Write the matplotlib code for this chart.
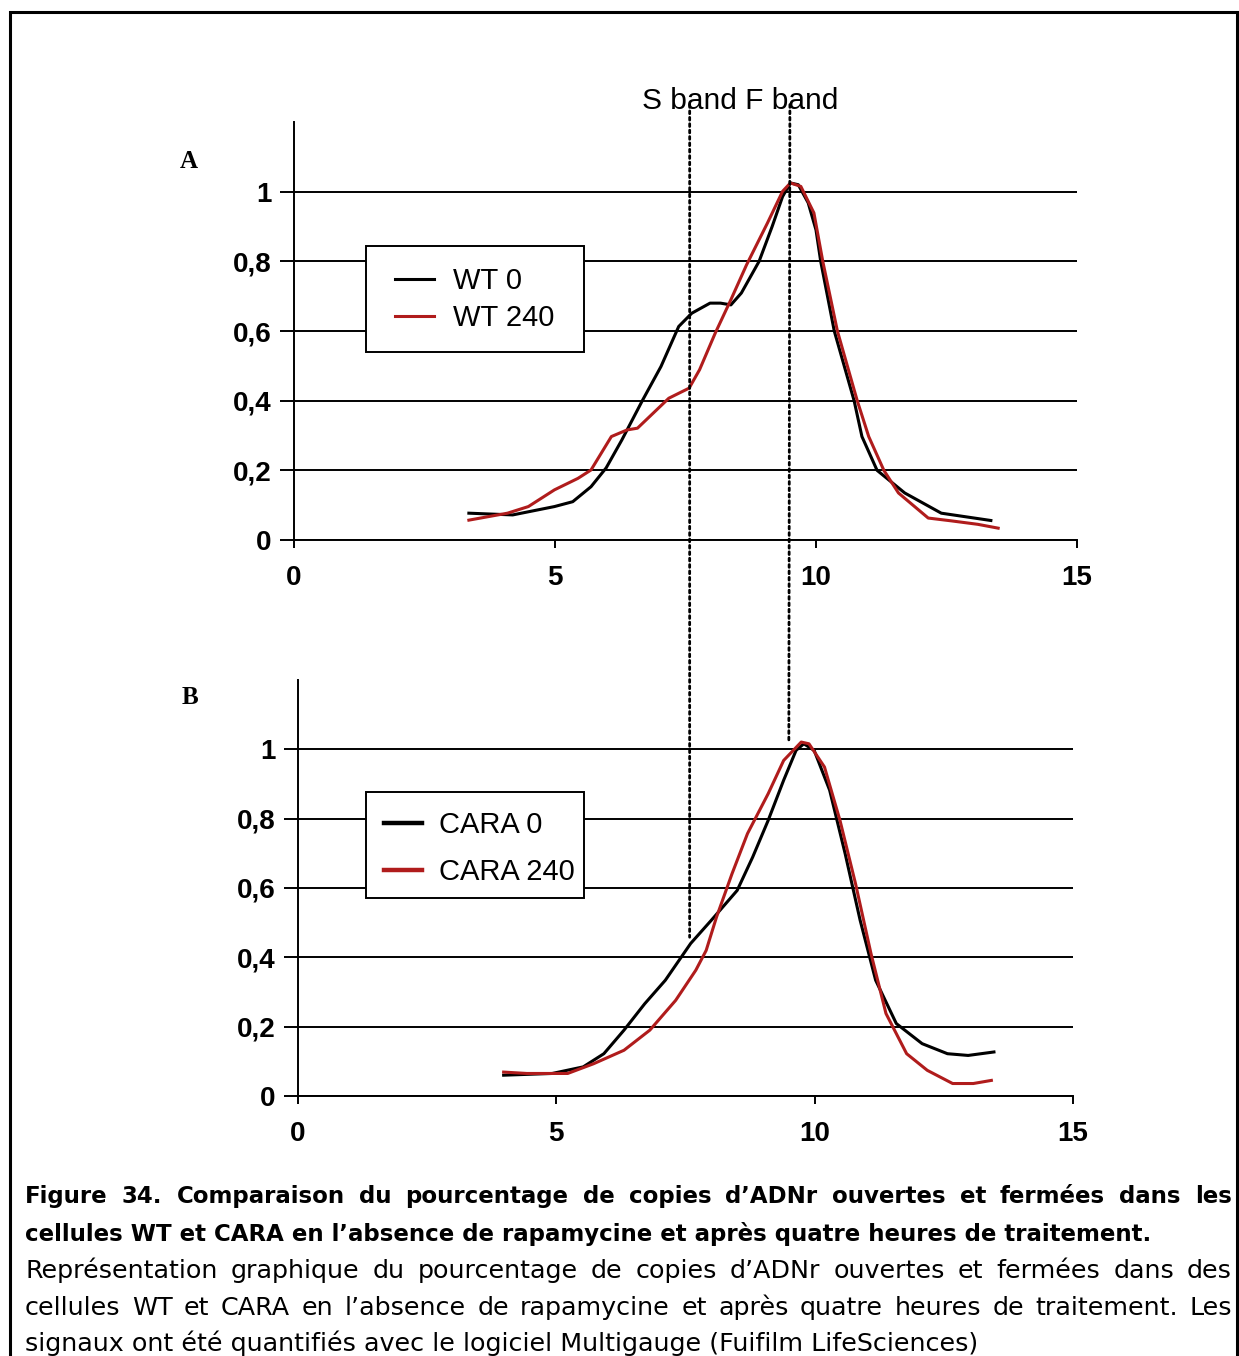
import matplotlib
matplotlib.use("Agg")
import matplotlib.pyplot as plt
from matplotlib.patches import Rectangle, ConnectionPatch
from matplotlib.ticker import FuncFormatter

# ---- data ----
wt0_x = [3.35, 4.19, 4.99, 5.34, 5.69, 5.98, 6.28, 6.68, 7.03, 7.37, 7.62, 7.97, 8.17, 8.37,
         8.57, 8.91, 9.16, 9.36, 9.51, 9.66, 9.85, 10.00, 10.09, 10.35, 10.73, 10.88, 11.17,
         11.70, 12.40, 13.35]
wt0_y = [0.077, 0.072, 0.096, 0.110, 0.153, 0.207, 0.287, 0.402, 0.498, 0.613, 0.651, 0.680,
         0.680, 0.675, 0.709, 0.800, 0.900, 0.986, 1.025, 1.020, 0.968, 0.890, 0.800, 0.600,
         0.400, 0.297, 0.200, 0.135, 0.077, 0.056]

wt240_x = [3.35, 4.09, 4.49, 4.99, 5.44, 5.69, 6.08, 6.38, 6.58, 7.18, 7.57, 7.77, 8.07, 8.37,
           8.67, 9.07, 9.36, 9.51, 9.71, 9.96, 10.13, 10.41, 10.79, 11.01, 11.30, 11.58, 12.15,
           12.59, 13.10, 13.49]
wt240_y = [0.057, 0.077, 0.096, 0.144, 0.177, 0.201, 0.297, 0.316, 0.321, 0.407, 0.436, 0.489,
           0.594, 0.690, 0.790, 0.910, 1.001, 1.025, 1.015, 0.939, 0.800, 0.600, 0.400, 0.297,
           0.200, 0.135, 0.063, 0.055, 0.045, 0.034]

cara0_x = [3.98, 4.92, 5.52, 5.92, 6.31, 6.71, 7.11, 7.60, 8.00, 8.50, 8.80, 9.10, 9.40, 9.64,
           9.79, 9.99, 10.29, 10.59, 10.88, 11.18, 11.58, 12.08, 12.57, 12.97, 13.47]
cara0_y = [0.060, 0.065, 0.084, 0.122, 0.190, 0.266, 0.334, 0.440, 0.507, 0.593, 0.689, 0.795,
           0.911, 0.997, 1.016, 0.997, 0.882, 0.699, 0.507, 0.334, 0.209, 0.151, 0.122, 0.117,
           0.127]

cara240_x = [3.98, 4.43, 5.22, 5.72, 6.31, 6.81, 7.31, 7.70, 7.90, 8.10, 8.40, 8.70, 9.10, 9.40,
             9.74, 9.89, 10.19, 10.49, 10.79, 11.09, 11.38, 11.78, 12.18, 12.67, 13.07, 13.42]
cara240_y = [0.069, 0.065, 0.065, 0.093, 0.132, 0.190, 0.276, 0.363, 0.420, 0.516, 0.641, 0.757,
             0.872, 0.968, 1.021, 1.016, 0.949, 0.795, 0.613, 0.411, 0.238, 0.122, 0.074, 0.036,
             0.036, 0.045]

bands = [7.58, 9.50]          # S band, F band
band_top = 1.25               # in panel A units
band_end_b = [0.458, 1.017]   # where the dotted lines stop in panel B

xticks = [0, 5, 10, 15]
yticks = [0, 0.2, 0.4, 0.6, 0.8, 1.0]

caption_bold = ["Figure 34. Comparaison du pourcentage de copies d’ADNr ouvertes et fermées dans les",
                "cellules WT et CARA en l’absence de rapamycine et après quatre heures de traitement."]
caption_text = ["Représentation graphique du pourcentage de copies d’ADNr ouvertes et fermées dans des",
                "cellules WT et CARA en l’absence de rapamycine et après quatre heures de traitement. Les",
                "signaux ont été quantifiés avec le logiciel Multigauge (Fuifilm LifeSciences)"]

W, H = 1239, 1356
RED = "#b01c1c"
SANS = ["Liberation Sans", "DejaVu Sans"]

fig = plt.figure(figsize=(W / 100, H / 100), dpi=100)


def fx(px):
    return px / W


def fy(py):
    return 1 - py / H


def setup(ax):
    ax.set_xlim(0, 15)
    ax.set_ylim(0, 1.2)
    for s in ["top", "right"]:
        ax.spines[s].set_visible(False)
    for s in ["left", "bottom"]:
        ax.spines[s].set_linewidth(1.4)
    ax.set_xticks(xticks)
    ax.set_yticks(yticks)
    ax.yaxis.set_major_formatter(FuncFormatter(lambda v, p: f"{v:g}".replace(".", ",")))
    ax.tick_params(axis="y", direction="out", length=10, width=1.4, pad=6)
    ax.tick_params(axis="x", direction="out", length=6, width=1.4, pad=12)
    for lab in ax.get_xticklabels() + ax.get_yticklabels():
        lab.set_family(SANS)
        lab.set_fontweight("bold")
        lab.set_fontsize(20)
    ax.yaxis.grid(True, color="black", linewidth=1.4)
    ax.set_axisbelow(True)


axA = fig.add_axes([fx(294), fy(540), fx(1077) - fx(294), fy(122) - fy(540)])
axB = fig.add_axes([fx(298), fy(1096), fx(1073) - fx(298), fy(680) - fy(1096)])
setup(axA)
setup(axB)

axA.plot(wt0_x, wt0_y, color="black", lw=2.2, label="WT 0", zorder=3)
axA.plot(wt240_x, wt240_y, color=RED, lw=2.2, label="WT 240", zorder=3)
axB.plot(cara0_x, cara0_y, color="black", lw=2.2, label="CARA 0", zorder=3)
axB.plot(cara240_x, cara240_y, color=RED, lw=2.2, label="CARA 240", zorder=3)

# legend boxes (fixed size, as in the original)
for ax, top in [(axA, 246), (axB, 792)]:
    ax.add_patch(Rectangle((fx(366), fy(top + 106)), fx(584) - fx(366), fy(top) - fy(top + 106),
                           transform=fig.transFigure, facecolor="white", edgecolor="black",
                           lw=1.4, zorder=4, clip_on=False))

legA = axA.legend(loc="upper left", bbox_to_anchor=(fx(395), fy(267)), bbox_transform=fig.transFigure,
                  frameon=False, borderpad=0, borderaxespad=0, handlelength=1.35, handletextpad=0.65,
                  labelspacing=0.3, prop={"family": SANS, "size": 21})
legB = axB.legend(loc="upper left", bbox_to_anchor=(fx(384), fy(811)), bbox_transform=fig.transFigure,
                  frameon=False, borderpad=0, borderaxespad=0, handlelength=1.3, handletextpad=0.6,
                  labelspacing=0.66, prop={"family": SANS, "size": 21})
for h in legB.get_lines():
    h.set_linewidth(3.2)
legA.set_zorder(5)
legB.set_zorder(5)

# dotted band lines running through both panels
for xb, yb in zip(bands, band_end_b):
    cp = ConnectionPatch(xyA=(xb, band_top), coordsA=axA.transData,
                         xyB=(xb, yb), coordsB=axB.transData,
                         arrowstyle="-", linestyle=(0, (1, 1.3)), linewidth=2, color="black")
    fig.add_artist(cp)

fig.text(fx(740), fy(101), "S band F band", ha="center", va="center", family=SANS, fontsize=21.5)
fig.text(fx(189), fy(161), "A", ha="center", va="center",
         family=["Liberation Serif", "DejaVu Serif"], fontweight="bold", fontsize=18)
fig.text(fx(190), fy(697), "B", ha="center", va="center",
         family=["Liberation Serif", "DejaVu Serif"], fontweight="bold", fontsize=18)

# outer frame
fig.add_artist(Rectangle((fx(10), fy(1370)), fx(1237) - fx(10), fy(12) - fy(1370),
                         transform=fig.transFigure, fill=False, edgecolor="black", lw=2.2))

# caption, justified like the original
renderer = fig.canvas.get_renderer()
CAP = ["DejaVu Sans"]


def fit_size(text, weight, target):
    probe = fig.text(0, 0, text, family=CAP, fontweight=weight, fontsize=16)
    w = probe.get_window_extent(renderer).width
    probe.remove()
    return 16 * target / w


size_bold = fit_size(caption_bold[1], "bold", 1130)
size_reg = fit_size(caption_text[2], "normal", 958)

left, right = 25, 1232


def caption_line(text, y, bold, justify):
    weight = "bold" if bold else "normal"
    size = size_bold if bold else size_reg
    if not justify:
        fig.text(fx(left), fy(y), text, family=CAP, fontweight=weight, fontsize=size, va="baseline")
        return
    words = text.split(" ")
    items = [fig.text(0, fy(y), w, family=CAP, fontweight=weight, fontsize=size, va="baseline")
             for w in words]
    widths = [t.get_window_extent(renderer).width for t in items]
    gap = (right - left - sum(widths)) / (len(words) - 1)
    x = left
    for t, w in zip(items, widths):
        t.set_x(fx(x))
        x += w + gap


caption_line(caption_bold[0], 1203, True, True)
caption_line(caption_bold[1], 1241, True, False)
caption_line(caption_text[0], 1278, False, True)
caption_line(caption_text[1], 1315, False, True)
caption_line(caption_text[2], 1351, False, False)

fig.savefig("out.png", dpi=100)
